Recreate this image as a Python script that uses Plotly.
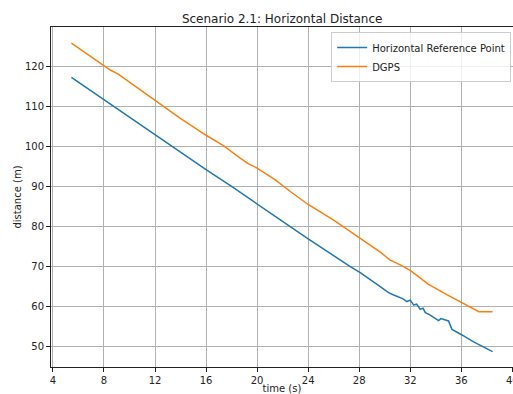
import plotly.graph_objects as go

# Horizontal Reference Point
ref_t = [5.45, 10.17, 12.0, 16.0, 18.0, 20.27, 24.0, 27.3, 28.08, 29.65,
         30.3, 30.7, 30.95, 31.4, 31.74, 32.0, 32.26, 32.5, 32.78, 33.0, 33.18, 33.5, 34.22,
         34.4, 35.0, 35.27, 36.05, 37.0, 38.45]
ref_d = [117.25, 106.85, 103.0, 94.2, 90.0, 85.0, 76.9, 70.0, 68.5, 65.0,
         63.5, 62.9, 62.6, 62.0, 61.25, 61.6, 60.4, 60.6, 59.3, 59.6, 58.5, 58.0, 56.5,
         57.0, 56.4, 54.3, 52.9, 51.1, 48.75]

# DGPS
dgps_t = [5.45, 8.0, 8.5, 9.12, 10.3, 10.82, 12.0, 13.96, 16.0, 17.36, 18.67, 19.3, 20.0,
          20.98, 21.4, 22.6, 24.0, 26.0, 28.0, 29.65, 30.43, 31.3, 32.05, 33.4, 34.9, 36.2,
          37.38, 38.45]
dgps_d = [125.85, 120.2, 119.1, 118.1, 115.4, 114.2, 111.5, 107.1, 102.8, 100.2, 97.1, 95.7, 94.6,
          92.7, 91.7, 88.75, 85.5, 81.6, 77.1, 73.6, 71.6, 70.3, 68.9, 65.6, 62.9, 60.7,
          58.7, 58.7]

x_ticks = [4, 8, 12, 16, 20, 24, 28, 32, 36, 40]
y_ticks = [50, 60, 70, 80, 90, 100, 110, 120]

FONT = "DejaVu Sans"

fig = go.Figure()
fig.add_trace(go.Scatter(x=ref_t, y=ref_d, mode="lines", name="Horizontal Reference Point",
                         line=dict(color="#1f77b4", width=1.5)))
fig.add_trace(go.Scatter(x=dgps_t, y=dgps_d, mode="lines", name="DGPS",
                         line=dict(color="#ff7f0e", width=1.5)))

axis_common = dict(showline=True, mirror=True, linecolor="#222222", linewidth=1,
                   ticks="outside", ticklen=4, tickcolor="#222222", tickwidth=1,
                   showgrid=True, gridcolor="#b0b0b0", gridwidth=1, zeroline=False,
                   automargin=False, ticklabeloverflow="allow",
                   tickfont=dict(family=FONT, size=10, color="#222222"))

fig.update_layout(
    width=513, height=394,
    margin=dict(l=51, r=0, t=27, b=27),
    paper_bgcolor="white", plot_bgcolor="white",
    title=dict(text="Scenario 2.1: Horizontal Distance", x=0.55, xanchor="center",
               y=0.953, yanchor="middle",
               font=dict(family=FONT, size=12, color="#222222")),
    xaxis=dict(range=[3.85, 40.05], tickvals=x_ticks,
               title=dict(text="time (s)", standoff=1,
                          font=dict(family=FONT, size=10, color="#222222")),
               **axis_common),
    yaxis=dict(range=[44.9, 129.85], tickvals=y_ticks,
               title=dict(text="distance (m)", standoff=1,
                          font=dict(family=FONT, size=10, color="#222222")),
               **axis_common),
    legend=dict(x=0.996, y=0.985, xanchor="right", yanchor="top",
                bgcolor="rgba(255,255,255,0.8)", bordercolor="#cccccc", borderwidth=1,
                font=dict(family=FONT, size=10, color="#222222"),
                itemwidth=30, tracegroupgap=0),
    showlegend=True,
)

fig.write_html("out.html", config={"displayModeBar": False},
               post_script="document.body.style.margin='0';document.body.style.padding='0';")
